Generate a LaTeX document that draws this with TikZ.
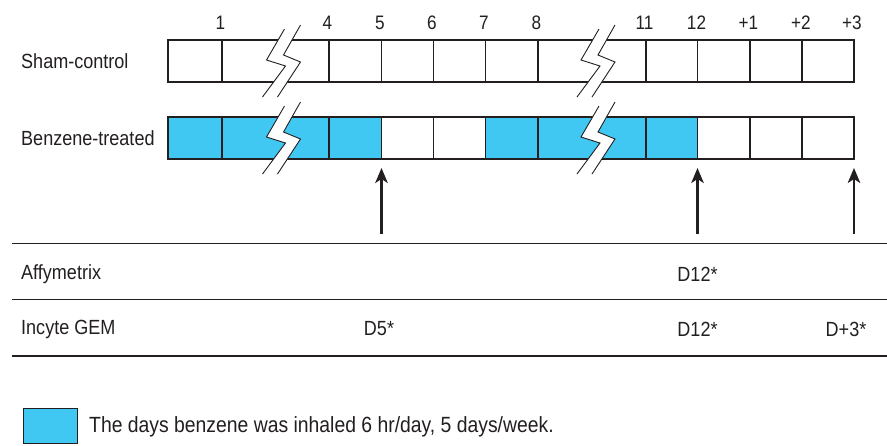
\documentclass[tikz,border=0pt]{standalone}
\usepackage{fontspec}
\setmainfont[FakeStretch=0.88]{Liberation Sans}
\usetikzlibrary{arrows.meta}
\definecolor{benz}{RGB}{64,200,242}
\definecolor{ink}{RGB}{35,31,32}
\newcommand\mybolt[2]{%
  \begin{scope}[shift={(#1,#2)}]
    \fill[white] (2,-32) -- (-16,-1) -- (3,5) -- (-20,36) -- (-5,36) -- (18,1) -- (1,-6) -- (18,-36) -- cycle;
    \draw[boltline] (2,-32) -- (-16,-1) -- (3,5) -- (-20,36);
    \draw[boltline] (18,-36) -- (1,-6) -- (18,1) -- (-5,36);
  \end{scope}}
\begin{document}
\begin{tikzpicture}[x=1pt,y=-1pt,
  cell/.style={draw=ink, line width=1.2pt, minimum height=42pt, inner sep=0pt, outer sep=0pt},
  lbl/.style={font=\fontsize{20.5}{22}\selectfont, text=ink, inner sep=0pt},
  num/.style={font=\fontsize{19.5}{22}\selectfont, text=ink, inner sep=0pt},
  rule/.style={draw=ink, line width=1.6pt},
  boltline/.style={draw=ink, line width=0.9pt},
  arr/.style={draw=ink, line width=2.2pt, -{Stealth[length=15pt,width=12.5pt,inset=4pt]}}]
\useasboundingbox (0,0) rectangle (887,445);

% top row (sham-control)
\foreach \c/\w [count=\i] in {195/54, 275.5/107, 355.25/52.5, 407.5/52, 459.5/52, 511.75/52.5, 592/108, 671.75/51.5, 723.75/52.5, 776/52, 828/52}
  \node[cell, fill=white, minimum width=\w pt] (t\i) at (\c,61) {};
% bottom row (benzene-treated)
\foreach \c/\w/\f [count=\i] in {195/54/benz, 275.5/107/benz, 355.25/52.5/benz, 407.5/52/white, 459.5/52/white, 511.75/52.5/benz, 592/108/benz, 671.75/51.5/benz, 723.75/52.5/white, 776/52/white, 828/52/white}
  \node[cell, fill=\f, minimum width=\w pt] (b\i) at (\c,138) {};

% break marks
\mybolt{282.5}{61}
\mybolt{282.5}{138}
\mybolt{597}{61}
\mybolt{597}{138}

% day numbers
\node[num] (n1) at (220.5,23) {1};
\node[num] (n4) at (327.5,23) {4};
\node[num] (n5) at (380,23) {5};
\node[num] (n6) at (432,23) {6};
\node[num] (n7) at (484,23) {7};
\node[num] (n8) at (536.5,23) {8};
\node[num] (n11) at (644.5,23) {11};
\node[num] (n12) at (696.5,23) {12};
\node[num] (np1) at (748.5,23) {+1};
\node[num] (np2) at (801,23) {+2};
\node[num] (np3) at (852,23) {+3};

% row labels
\node[lbl, anchor=west] (sham) at (21,61) {Sham-control};
\node[lbl, anchor=west] (benzt) at (21,138) {Benzene-treated};

% arrows
\coordinate (a5) at (381.5,234);
\coordinate (a12) at (697.5,234);
\coordinate (a3) at (854,234);
\draw[arr] (a5) -- ([yshift=-9pt]b3.south east);
\draw[arr] (a12) -- ([yshift=-9pt]b8.south east);
\draw[arr] (a3) -- ([yshift=-9pt]b11.south east);

% table rules
\coordinate (r1a) at (12,243.5); \coordinate (r1b) at (887,243.5);
\coordinate (r2a) at (12,299.5); \coordinate (r2b) at (887,299.5);
\coordinate (r3a) at (12,356); \coordinate (r3b) at (887,356);
\draw[rule] (r1a) -- (r1b);
\draw[rule] (r2a) -- (r2b);
\draw[rule] (r3a) -- (r3b);

% table text
\node[lbl, anchor=west] (affy) at (21,274) {Affymetrix};
\node[lbl, anchor=west] (incy) at (21,329) {Incyte GEM};
\node[lbl] (affy12) at (697.5,274) {D12*};
\node[lbl] (inc5) at (379,329) {D5*};
\node[lbl] (inc12) at (697.5,329) {D12*};
\node[lbl] (inc3) at (846,329) {D+3*};

% legend
\node[draw=ink, fill=benz, line width=1pt, minimum width=54pt, minimum height=35pt, inner sep=0pt] (key) at (50,425.5) {};
\node[lbl, anchor=west, font=\fontsize{22}{24}\selectfont] (keytext) at (89,427) {The days benzene was inhaled 6 hr/day, 5 days/week.};
\end{tikzpicture}
\end{document}
